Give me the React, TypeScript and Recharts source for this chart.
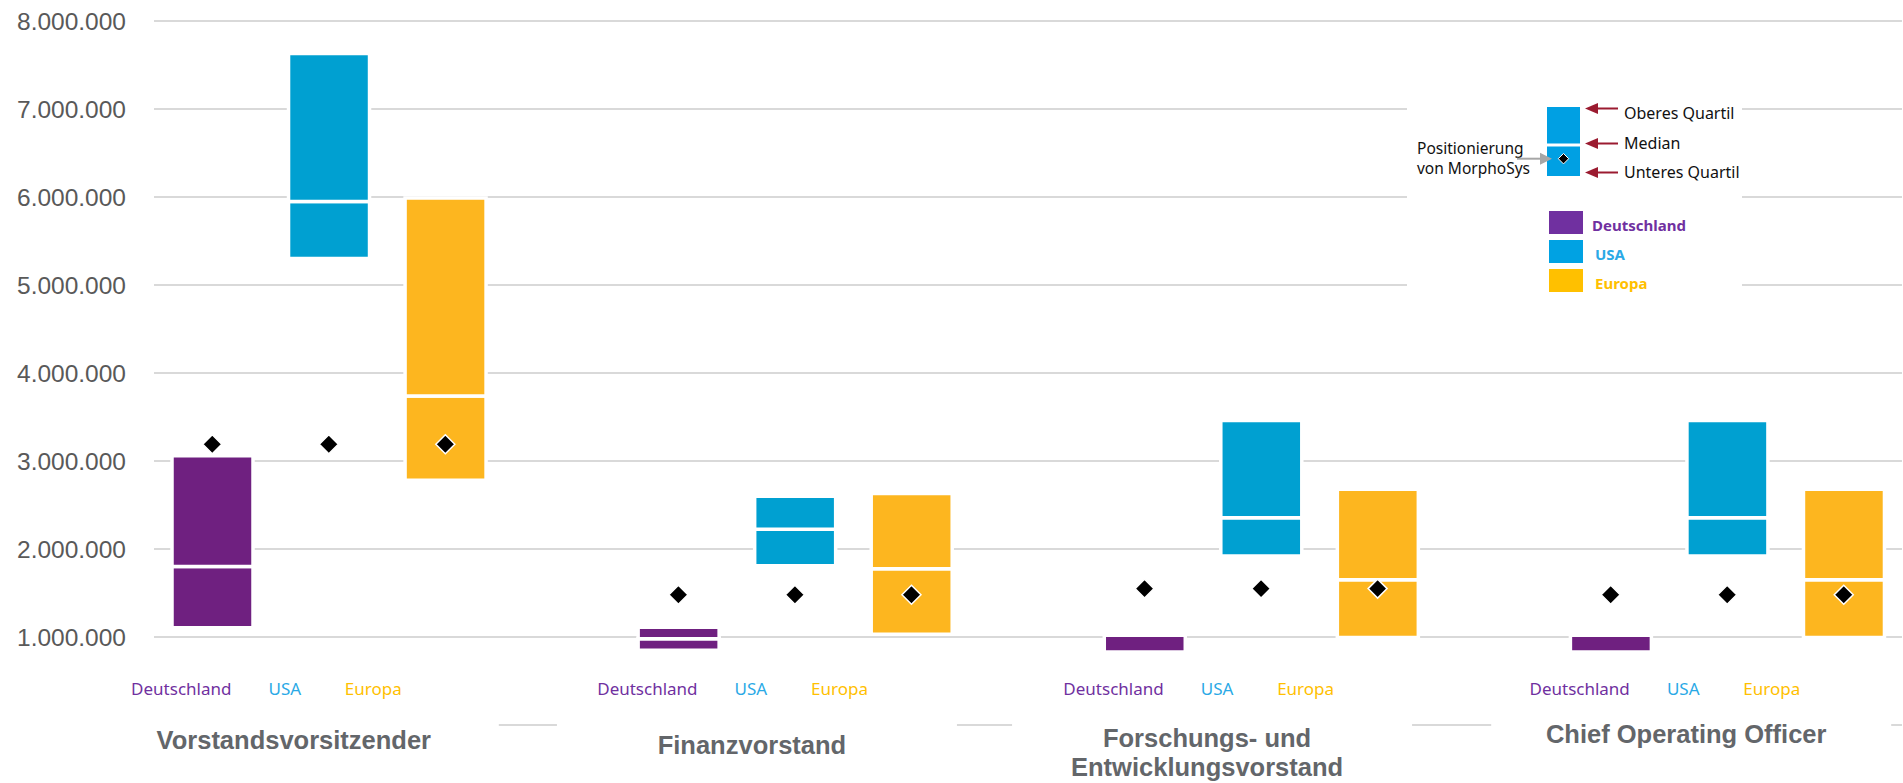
import { ComposedChart, Bar, Line, XAxis, YAxis, CartesianGrid, Cell } from 'recharts';

// Vergütungspositionierung (in EUR), je Funktion: [Deutschland, USA, Europa]
const groups = ['Vorstandsvorsitzender', 'Finanzvorstand', 'Forschungs- und Entwicklungsvorstand', 'Chief Operating Officer'];
const regions = ['Deutschland', 'USA', 'Europa'];

const lowerQuartile = [
  [1105000, 5300000, 2780000],
  [850000, 1810000, 1030000],
  [830000, 1920000, 995000],
  [830000, 1920000, 995000],
];
const median = [
  [1800000, 5950000, 3740000],
  [980000, 2225000, 1776000],
  [1020000, 2356000, 1650000],
  [1020000, 2356000, 1650000],
];
const upperQuartile = [
  [3060000, 7630000, 5990000],
  [1110000, 2600000, 2630000],
  [1020000, 3460000, 2680000],
  [1020000, 3460000, 2680000],
];
// Positionierung von MorphoSys (gleich für alle drei Vergleichsgruppen)
const morphoSys = [3190000, 1480000, 1550000, 1480000];

const yTicks = [0, 1000000, 2000000, 3000000, 4000000, 5000000, 6000000, 7000000, 8000000];

const BAR_COLORS = ['#6f2080', '#00a0d1', '#fdb61f'];
const LABEL_COLORS = ['#7030a0', '#2aa9e6', '#ffc000'];
const SWATCH_COLORS = ['#7030a0', '#00a2e3', '#ffc000'];
const TITLE_COLOR = '#63666a';
const LABEL_FONT = "'Noto Sans', sans-serif";
const ARIAL = "'Liberation Sans', Arial, sans-serif";

// label offsets (px from own bar centre) and title placement per group
const LABEL_DX = [-31, -44, -72];
const TITLE_LAYOUT = [
  { dx: -35, baselines: [749] },
  { dx: -43, baselines: [754] },
  { dx: -54, baselines: [747, 776] },
  { dx: -41, baselines: [743] },
];

// one slot per bar, plus an empty slot between the groups
const rows: any[] = [];
groups.forEach((g, gi) => {
  regions.forEach((r, ri) => {
    const q1 = lowerQuartile[gi][ri];
    const med = median[gi][ri];
    const q3 = upperQuartile[gi][ri];
    rows.push({
      id: `${gi}-${r}`,
      group: gi,
      region: ri,
      base: q1,
      lower: med - q1,
      upper: q3 - med,
      pos: morphoSys[gi],
    });
  });
  if (gi < groups.length - 1) rows.push({ id: `gap-${gi}`, group: gi, region: null });
});

const fmt = (v: number) => (v === 0 ? '' : String(v).replace(/\B(?=(\d{3})+(?!\d))/g, '.'));

function titleLines(name: string) {
  return name.includes('- und ') ? name.replace('- und ', '- und\n').split('\n') : [name];
}

function CategoryTick(props: any) {
  const { x, y, payload } = props;
  const row = rows[payload.index];
  if (!row || row.region === null) return <g />;
  const ri = row.region;
  const label = (
    <text
      x={x + LABEL_DX[ri]}
      y={y - 30}
      textAnchor="middle"
      fill={LABEL_COLORS[ri]}
      fontSize={17}
      fontFamily={LABEL_FONT}
    >
      {regions[ri]}
    </text>
  );
  if (ri !== 1) return <g>{label}</g>;

  const layout = TITLE_LAYOUT[row.group];
  const cx = x + layout.dx;
  return (
    <g>
      <rect x={cx + 5 - 200} y={712} width={400} height={71} fill="#fff" />
      {titleLines(groups[row.group]).map((line, i) => (
        <text
          key={i}
          x={cx}
          y={layout.baselines[i]}
          textAnchor="middle"
          fill={TITLE_COLOR}
          fontSize={25.5}
          fontWeight="bold"
          fontFamily={ARIAL}
        >
          {line}
        </text>
      ))}
      {label}
    </g>
  );
}

function Diamond(props: any) {
  const { cx, cy, index, payload } = props;
  if (cy == null || payload == null || payload.pos == null) return <g key={`d-${index}`} />;
  const h = 9.5;
  return (
    <path
      key={`d-${index}`}
      d={`M${cx},${cy - h}L${cx + h},${cy}L${cx},${cy + h}L${cx - h},${cy}Z`}
      fill="#000"
      stroke="#fff"
      strokeWidth={1.5}
    />
  );
}

function Arrow({ x1, x2, y, color, head, halfH }: any) {
  // arrow with its tip at x1
  return (
    <g>
      <line x1={x1 + head - Math.sign(head)} y1={y} x2={x2} y2={y} stroke={color} strokeWidth={2} />
      <path d={`M${x1},${y}L${x1 + head},${y - halfH}L${x1 + head},${y + halfH}Z`} fill={color} />
    </g>
  );
}

function LegendOverlay() {
  const red = '#9b1b30';
  const blue = '#00a0e3';
  return (
    <svg width={1903} height={783} style={{ position: 'absolute', left: 0, top: 0, pointerEvents: 'none' }}>
      <rect x={1407} y={62} width={335} height={236} fill="#fff" />
      {/* boxplot key */}
      <rect x={1547} y={107} width={33} height={36.5} fill={blue} />
      <rect x={1547} y={146.5} width={33} height={29.5} fill={blue} />
      <path d="M1563.5,153.5L1568.7,158.7L1563.5,163.9L1558.3,158.7Z" fill="#000" stroke="#fff" strokeWidth={1} />
      <Arrow x1={1585} x2={1618} y={108.5} color={red} head={13} halfH={5.5} />
      <Arrow x1={1585} x2={1618} y={143.5} color={red} head={13} halfH={5.5} />
      <Arrow x1={1585} x2={1618} y={172.5} color={red} head={13} halfH={5.5} />
      <g fontFamily={LABEL_FONT} fontSize={16} fill="#111">
        <text x={1624} y={119}>Oberes Quartil</text>
        <text x={1624} y={149}>Median</text>
        <text x={1624} y={178}>Unteres Quartil</text>
      </g>
      <g fontFamily={LABEL_FONT} fontSize={15.5} fill="#111">
        <text x={1417} y={154}>Positionierung</text>
        <text x={1417} y={174}>von MorphoSys</text>
      </g>
      <Arrow x1={1552} x2={1517} y={158.7} color="#a6a6a6" head={-12} halfH={6} />
      {/* colour key */}
      {regions.map((r, i) => (
        <g key={r}>
          <rect x={1549} y={211 + i * 29} width={34} height={23} fill={SWATCH_COLORS[i]} />
          <text
            x={i === 0 ? 1592 : 1595}
            y={230.5 + i * 29}
            fill={LABEL_COLORS[i]}
            fontSize={15}
            fontWeight="bold"
            fontFamily={LABEL_FONT}
          >
            {r}
          </text>
        </g>
      ))}
    </svg>
  );
}

export default function App() {
  return (
    <div style={{ position: 'absolute', left: 0, top: 0, width: 1903, height: 783, background: '#fff' }}>
      <ComposedChart
        width={1903}
        height={783}
        data={rows}
        margin={{ top: 21, right: 1, bottom: 0, left: 0 }}
        barSize={81}
      >
        <CartesianGrid vertical={false} stroke="#d9d9d9" strokeWidth={2} />
        <XAxis
          dataKey="id"
          interval={0}
          axisLine={false}
          tickLine={false}
          tickSize={0}
          tickMargin={0}
          height={58}
          tick={<CategoryTick />}
        />
        <YAxis
          width={154}
          domain={[0, 8000000]}
          ticks={yTicks}
          tickFormatter={fmt}
          axisLine={false}
          tickLine={false}
          tickSize={0}
          tickMargin={28}
          tick={{ fill: '#595959', fontSize: 24.5, fontFamily: ARIAL }}
        />
        <Bar dataKey="base" stackId="box" fill="transparent" isAnimationActive={false} />
        <Bar dataKey="lower" stackId="box" stroke="#fff" strokeWidth={3.5} isAnimationActive={false}>
          {rows.map((r) => (
            <Cell key={r.id} fill={r.region === null ? 'none' : BAR_COLORS[r.region]} />
          ))}
        </Bar>
        <Bar dataKey="upper" stackId="box" stroke="#fff" strokeWidth={3.5} isAnimationActive={false}>
          {rows.map((r) => (
            <Cell key={r.id} fill={r.region === null ? 'none' : BAR_COLORS[r.region]} />
          ))}
        </Bar>
        <Line
          dataKey="pos"
          stroke="none"
          dot={(p: any) => <Diamond {...p} key={`d-${p.index}`} />}
          activeDot={false}
          isAnimationActive={false}
        />
      </ComposedChart>
      <LegendOverlay />
    </div>
  );
}
